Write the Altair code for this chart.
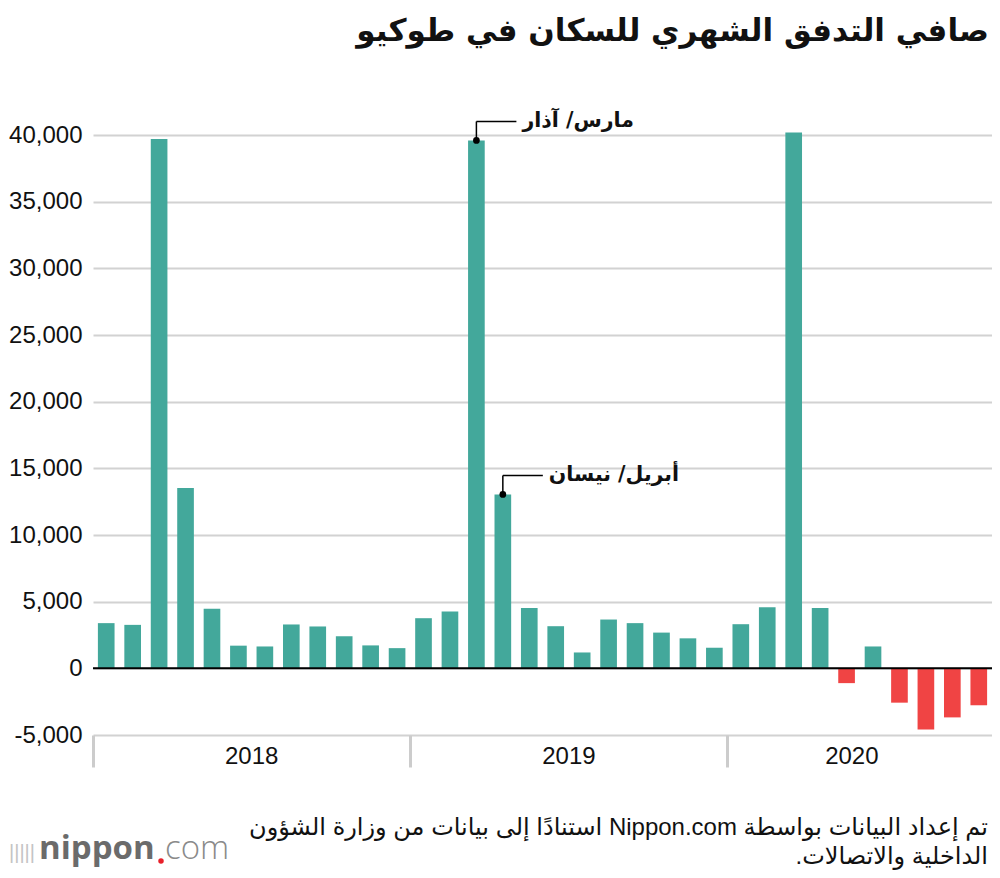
import altair as alt
import pandas as pd

TEAL = "#43a89b"
RED = "#f04444"
GRID = "#d2d2d2"
FONT_NUM = "Liberation Sans"
FONT_AR = "DejaVu Sans"
FONT_MIX = "Liberation Sans, DejaVu Sans"

# ---- data -------------------------------------------------------------
years = [2018, 2019, 2020]
months_per_year = [12, 12, 10]
values_2018 = [3390, 3260, 39700, 13530, 4470, 1700, 1640, 3290, 3140, 2400, 1720, 1515]
values_2019 = [3760, 4270, 39590, 13040, 4530, 3160, 1190, 3660, 3390, 2680, 2250, 1545]
values_2020 = [3310, 4575, 40180, 4520, -1110, 1640, -2575, -4590, -3680, -2770]

months = [f"{y}-{m:02d}" for y, n in zip(years, months_per_year) for m in range(1, n + 1)]
values = values_2018 + values_2019 + values_2020
df = pd.DataFrame({"m": months, "v": values})

y_ticks = [-5000, 0, 5000, 10000, 15000, 20000, 25000, 30000, 35000, 40000]
year_start_months = ["2018-01", "2019-01", "2020-01"]
year_labels = ["2018", "2019"]
year_label_months = ["2018-07", "2019-07"]
last_year_label = ["2020"]
last_year_label_month = ["2020-05"]

ann_months = ["2019-03", "2019-04"]
ann_labels = ["\u202bمارس/ آذار\u202c", "\u202bأبريل/ نيسان\u202c"]

title_text = "\u202bصافي التدفق الشهري للسكان في طوكيو\u202c"
source_lines = [
    "\u202bتم إعداد البيانات بواسطة Nippon.com استنادًا إلى بيانات من وزارة الشؤون\u202c",
    "\u202bالداخلية والاتصالات.\u202c",
]

# ---- scales -----------------------------------------------------------
xscale = alt.Scale(domain=months, paddingInner=0, paddingOuter=0)
yscale = alt.Scale(domain=[-5000, 40000], nice=False, zero=False)

bars = alt.Chart(df).mark_bar(width=alt.RelativeBandSize(0.63)).encode(
    x=alt.X(
        "m:O",
        scale=xscale,
        axis=alt.Axis(
            values=year_start_months,
            bandPosition=0,
            labels=False,
            title=None,
            domain=False,
            grid=False,
            ticks=True,
            tickSize=32,
            tickColor="#cccccc",
            tickWidth=3,
        ),
    ),
    y=alt.Y(
        "v:Q",
        scale=yscale,
        axis=alt.Axis(
            values=y_ticks,
            labelExpr="datum.value < 0 ? '-' + format(-datum.value, ',d') : format(datum.value, ',d')",
            title=None,
            domain=False,
            ticks=False,
            grid=True,
            gridColor=GRID,
            gridWidth=2,
            labelFont=FONT_NUM,
            labelFontSize=24,
            labelColor="#111111",
            labelPadding=11,
        ),
    ),
    color=alt.when(alt.datum.v < 0).then(alt.value(RED)).otherwise(alt.value(TEAL)),
)

zero = alt.Chart(pd.DataFrame({"z": [0]})).mark_rule(color="black", strokeWidth=2).encode(
    y=alt.Y("z:Q", scale=yscale)
)

year_df = pd.DataFrame({"m": year_label_months, "t": year_labels})
year_text = alt.Chart(year_df).mark_text(
    font=FONT_NUM, fontSize=24, color="#111111", baseline="middle", align="center"
).encode(
    x=alt.X("m:O", scale=xscale, bandPosition=0),
    y=alt.value(757 - 135),
    text="t:N",
)
year_df2 = pd.DataFrame({"m": last_year_label_month, "t": last_year_label})
year_text2 = alt.Chart(year_df2).mark_text(
    font=FONT_NUM, fontSize=24, color="#111111", baseline="middle", align="center"
).encode(
    x=alt.X("m:O", scale=xscale, bandPosition=0.7),
    y=alt.value(757 - 135),
    text="t:N",
)

ann_df = pd.DataFrame({"m": ann_months, "label": ann_labels}).merge(df, on="m")
ann_base = alt.Chart(ann_df)
dots = ann_base.mark_circle(size=45, color="black", opacity=1).encode(
    x=alt.X("m:O", scale=xscale), y=alt.Y("v:Q", scale=yscale)
)
vlines = ann_base.mark_rule(color="black", strokeWidth=1.5, y2Offset=-19).encode(
    x=alt.X("m:O", scale=xscale), y=alt.Y("v:Q", scale=yscale), y2=alt.Y2("v")
)
hlines = ann_base.mark_rule(color="black", strokeWidth=1.5, yOffset=-19, y2Offset=-19, x2Offset=40).encode(
    x=alt.X("m:O", scale=xscale), x2=alt.X2("m"), y=alt.Y("v:Q", scale=yscale)
)
ann_text = ann_base.mark_text(
    align="left", baseline="middle", dx=46, dy=-19, font=FONT_AR, fontSize=20.5,
    fontWeight="bold", color="#111111",
).encode(x=alt.X("m:O", scale=xscale), y=alt.Y("v:Q", scale=yscale), text="label:N")

one = pd.DataFrame({"k": [0]})
title = alt.Chart(one).mark_text(
    align="right", baseline="middle", font=FONT_AR, fontSize=31, fontWeight="bold", color="#111111"
).encode(x=alt.value(989 - 93), y=alt.value(32 - 135), text=alt.value(title_text))

source = alt.Chart(one).mark_text(
    align="right", baseline="alphabetic", font=FONT_MIX, fontSize=24, color="#111111", lineHeight=29
).encode(x=alt.value(988 - 93), y=alt.value(835 - 135), text=alt.value(source_lines))

logo_icon = alt.Chart(one).mark_text(
    align="left", baseline="middle", font=FONT_NUM, fontSize=20, fontWeight=300, color="#c4c4c4"
).encode(x=alt.value(9 - 93), y=alt.value(853 - 135), text=alt.value("|||||"))
logo_main = alt.Chart(one).mark_text(
    align="left", baseline="middle", font="Open Sans", fontSize=33, fontWeight="bold", color="#6b6b6b"
).encode(x=alt.value(39 - 93), y=alt.value(849 - 135), text=alt.value("nippon"))
logo_dot = alt.Chart(one).mark_circle(size=30, color="#e8202a", opacity=1).encode(
    x=alt.value(161 - 93), y=alt.value(861 - 135)
)
logo_com = alt.Chart(one).mark_text(
    align="left", baseline="middle", font="Open Sans", fontSize=33, fontWeight=300, color="#8a8a8a"
).encode(x=alt.value(165 - 93), y=alt.value(849 - 135), text=alt.value("com"))

chart = alt.layer(
    bars, zero, year_text, year_text2, dots, vlines, hlines, ann_text,
    title, source, logo_icon, logo_main, logo_dot, logo_com,
).properties(
    width=899,
    height=600,
    padding={"left": 85, "right": 0, "top": 127, "bottom": 135},
    autosize=alt.AutoSizeParams(type="none"),
).configure_view(stroke=None)

chart.save("out.html", embed_options={"renderer": "svg", "actions": False})
